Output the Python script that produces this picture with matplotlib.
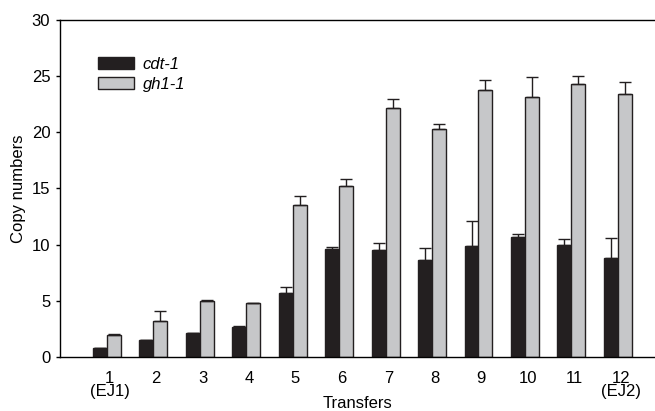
import matplotlib
matplotlib.use('Agg')
import matplotlib.pyplot as plt
import numpy as np

plt.rcParams['font.family'] = ['Liberation Sans', 'DejaVu Sans']

# Transfer labels
transfers = ['1\n(EJ1)', '2', '3', '4', '5', '6', '7', '8', '9', '10', '11', '12\n(EJ2)']
# cdt-1 copy numbers and upper error
cdt_mean = [0.77, 1.5, 2.1, 2.64, 5.7, 9.59, 9.53, 8.67, 9.88, 10.69, 10.0, 8.81]
cdt_err = [0.0, 0.0, 0.0, 0.12, 0.5, 0.2, 0.65, 1.0, 2.2, 0.3, 0.48, 1.8]
# gh1-1 copy numbers and upper error
gh1_mean = [2.0, 3.23, 5.0, 4.78, 13.53, 15.23, 22.2, 20.33, 23.75, 23.12, 24.34, 23.42]
gh1_err = [0.03, 0.9, 0.05, 0.0, 0.8, 0.57, 0.77, 0.4, 0.92, 1.84, 0.66, 1.04]

x = np.arange(1, len(transfers) + 1)
w = 0.3
fs = 12

fig = plt.figure(figsize=(6.55, 4.11), dpi=100)
ax = fig.add_axes([0.0916, 0.1314, 0.9084, 0.82])

zeros = [0] * len(x)
ax.bar(x - w / 2, cdt_mean, w, color='#231f20', edgecolor='#231f20', linewidth=1,
       label='cdt-1', yerr=[zeros, cdt_err], capsize=4,
       error_kw=dict(elinewidth=1, capthick=1, ecolor='#231f20'))
ax.bar(x + w / 2, gh1_mean, w, color='#c6c7c9', edgecolor='#231f20', linewidth=1,
       label='gh1-1', yerr=[zeros, gh1_err], capsize=4,
       error_kw=dict(elinewidth=1, capthick=1, ecolor='#231f20'))

ax.set_xlim(-0.01, 12.8)
ax.set_ylim(0, 30)
ax.set_yticks([0, 5, 10, 15, 20, 25, 30])
ax.set_xticks(x + 0.06)
ax.set_xticklabels(transfers, fontsize=fs, linespacing=0.85)
ax.tick_params(axis='x', length=0, pad=10)
ax.tick_params(axis='y', length=3, width=1, pad=4, labelsize=fs)
ax.spines['right'].set_visible(False)
for s in ['left', 'top', 'bottom']:
    ax.spines[s].set_linewidth(1)

ax.set_ylabel('Copy numbers', fontsize=fs, labelpad=4)
ax.set_xlabel('Transfers', fontsize=fs)
ax.xaxis.set_label_coords(0.5, -0.115)

leg = ax.legend(loc='upper left', bbox_to_anchor=(0.038, 0.935), frameon=False,
                prop={'style': 'italic', 'size': fs}, handlelength=2.2,
                handleheight=0.7, labelspacing=0.3, handletextpad=0.5)

fig.savefig('out.png', dpi=100)
